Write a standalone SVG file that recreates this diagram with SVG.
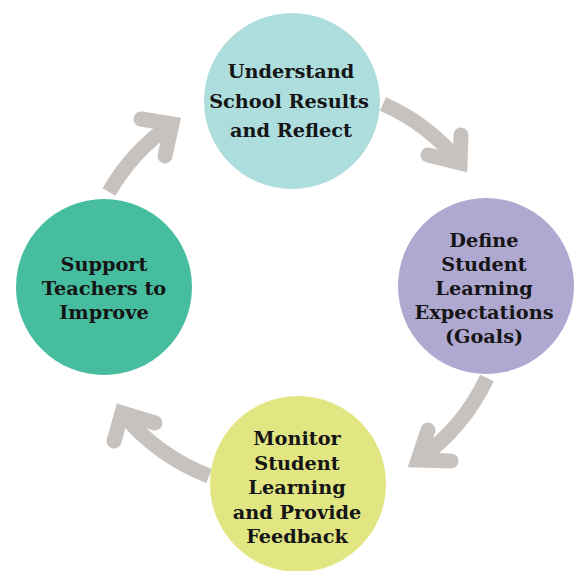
<svg xmlns="http://www.w3.org/2000/svg" width="579" height="571" viewBox="0 0 579 571">
<style>
.arrow{fill:none;stroke:#C7C2BE;stroke-width:15}
.body{stroke-linecap:butt}
.head{stroke-linecap:round;stroke-linejoin:miter;stroke-miterlimit:10}
.lbl{font-family:"DejaVu Serif",serif;font-weight:bold;font-size:19.3px;fill:#151515;text-anchor:middle}
</style>
<rect width="579" height="571" fill="#FFFFFF"/>
<g id="connectors">
  <path class="arrow body" d="M 383 104 A 206 206 0 0 1 460 163"/>
  <polyline class="arrow head" points="461,135 460,163 428,155"/>
  <path class="arrow body" d="M 487 378 A 211 211 0 0 1 418 460"/>
  <polyline class="arrow head" points="428,430 418,460 451,461"/>
  <path class="arrow body" d="M 209 476 A 210 210 0 0 1 122 413"/>
  <polyline class="arrow head" points="155,423 122,413 114,441"/>
  <path class="arrow body" d="M 109 192 A 207 207 0 0 1 172 124"/>
  <polyline class="arrow head" points="141,119 172,124 165,156"/>
</g>
<g id="node-understand">
  <circle cx="292" cy="101" r="88" fill="#AEDDDE"/>
  <text class="lbl" x="291" y="78">Understand</text>
  <text class="lbl" x="289" y="107.5">School Results</text>
  <text class="lbl" x="291" y="137">and Reflect</text>
</g>
<g id="node-define">
  <circle cx="486" cy="286" r="88" fill="#AFA8D0"/>
  <text class="lbl" x="484" y="247">Define</text>
  <text class="lbl" x="484" y="271">Student</text>
  <text class="lbl" x="484" y="295">Learning</text>
  <text class="lbl" x="484" y="319">Expectations</text>
  <text class="lbl" x="484" y="343">(Goals)</text>
</g>
<g id="node-monitor">
  <circle cx="298" cy="484" r="88" fill="#E1E683"/>
  <text class="lbl" x="297" y="445">Monitor</text>
  <text class="lbl" x="297" y="470">Student</text>
  <text class="lbl" x="297" y="494">Learning</text>
  <text class="lbl" x="297" y="519">and Provide</text>
  <text class="lbl" x="297" y="543">Feedback</text>
</g>
<g id="node-support">
  <circle cx="104" cy="287" r="88" fill="#46BD9E"/>
  <text class="lbl" x="104" y="271">Support</text>
  <text class="lbl" x="104" y="295">Teachers to</text>
  <text class="lbl" x="104" y="319">Improve</text>
</g>
</svg>
